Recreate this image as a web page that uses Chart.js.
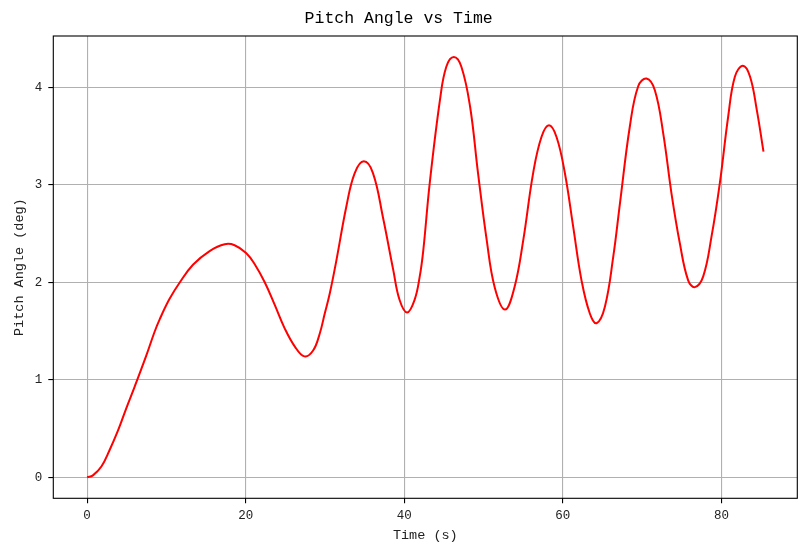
<!DOCTYPE html>
<html>
<head>
<meta charset="utf-8">
<script src="https://cdn.jsdelivr.net/npm/chart.js@4/dist/chart.umd.min.js"></script>
<style>
  body { margin: 0; background: #fff; }
  #wrap { width: 809px; height: 555px; }
</style>
</head>
<body>
<div id="wrap"><canvas id="pitchChart" width="809" height="555"></canvas></div>
<script>
// values
const timeS = [
  0, 0.73, 1.8, 2.84, 3.9, 4.95, 6.0, 7.47, 8.5, 9.15, 10.4, 11.7, 13.35, 15.45, 17.35,
  18.6, 20.05, 21.1, 22.4, 23.65, 24.9, 26.2, 27.4, 28.5, 29.34, 29.97, 30.6, 31.45,
  32.7, 33.75, 34.9, 36.05, 37.3, 38.6, 39.4, 40.35, 41.3, 41.95, 42.4, 43.2, 44.5,
  45.3, 46.25, 47.2, 48.3, 49.3, 50.4, 51.4, 52.7, 53.9, 55.0, 56.25, 57.3, 58.25,
  59.2, 60.25, 61.3, 62.35, 63.4, 64.25, 65.3, 66.35, 67.2, 68.45, 69.5, 70.55,
  71.6, 72.65, 73.7, 74.75, 75.8, 76.65, 77.7, 78.75, 79.8, 80.85, 81.7, 82.7,
  83.6, 84.45, 85.3
];
const pitchDeg = [
  0, 0.02, 0.11, 0.28, 0.48, 0.71, 0.93, 1.25, 1.49, 1.62, 1.83, 2.0, 2.18, 2.32, 2.39,
  2.38, 2.30, 2.19, 2.0, 1.77, 1.53, 1.34, 1.24, 1.30, 1.475, 1.68, 1.885, 2.23,
  2.78, 3.12, 3.24, 3.12, 2.67, 2.13, 1.82, 1.69, 1.82, 2.06, 2.33, 3.01, 3.87,
  4.21, 4.31, 4.21, 3.80, 3.12, 2.43, 1.95, 1.72, 1.95, 2.43, 3.12, 3.49, 3.61,
  3.49, 3.12, 2.57, 2.02, 1.68, 1.58, 1.75, 2.26, 2.81, 3.60, 4.01, 4.09,
  3.97, 3.53, 2.91, 2.40, 2.02, 1.95, 2.06, 2.47, 3.02, 3.70, 4.11, 4.22,
  4.11, 3.77, 3.34
];
const xTicks = [0, 20, 40, 60, 80];
const yTicks = [0, 1, 2, 3, 4];

const FONT = "'Liberation Mono', 'DejaVu Sans Mono', monospace";

// matplotlib-like 5% margins around the data
const xSpan = Math.max(...timeS) - Math.min(...timeS);
const ySpan = Math.max(...pitchDeg) - Math.min(...pitchDeg);

// full black frame round the plot area
const frame = {
  id: 'frame',
  afterDraw(chart) {
    const { ctx, chartArea: a } = chart;
    ctx.save();
    ctx.strokeStyle = '#000';
    ctx.lineWidth = 1.1;
    ctx.strokeRect(a.left, a.top, a.right - a.left, a.bottom - a.top);
    ctx.restore();
  }
};

new Chart(document.getElementById('pitchChart').getContext('2d'), {
  type: 'line',
  data: {
    datasets: [{
      data: timeS.map((t, i) => ({ x: t, y: pitchDeg[i] })),
      borderColor: '#ff0000',
      borderWidth: 2,
      pointRadius: 0,
      fill: false,
      tension: 0.4
    }]
  },
  options: {
    responsive: false,
    animation: false,
    layout: { padding: { left: 0, right: 11.7, top: 0, bottom: 0 } },
    plugins: {
      legend: { display: false },
      tooltip: { enabled: false },
      title: {
        display: true,
        text: 'Pitch Angle vs Time',
        color: '#000',
        font: { family: FONT, size: 16.5, weight: 'normal', lineHeight: 1.2 },
        padding: { top: 9, bottom: 7.2 }
      }
    },
    scales: {
      x: {
        type: 'linear',
        min: Math.min(...timeS) - 0.05 * xSpan,
        max: Math.max(...timeS) + 0.05 * xSpan,
        afterBuildTicks: s => { s.ticks = xTicks.map(v => ({ value: v })); },
        afterFit: s => { s.height = 56.7; },
        border: { display: false },
        grid: { color: '#b0b0b0', lineWidth: 1.1, tickColor: '#000', tickLength: 5 },
        ticks: { color: '#222', padding: 5, maxRotation: 0, font: { family: FONT, size: 12.5 } },
        title: {
          display: true, text: 'Time (s)', color: '#222',
          font: { family: FONT, size: 13.5 }, padding: { top: 0, bottom: 11 }
        }
      },
      y: {
        min: Math.min(...pitchDeg) - 0.05 * ySpan,
        max: Math.max(...pitchDeg) + 0.05 * ySpan,
        afterBuildTicks: s => { s.ticks = yTicks.map(v => ({ value: v })); },
        afterFit: s => { s.width = 53.3; },
        border: { display: false },
        grid: { color: '#b0b0b0', lineWidth: 1.1, tickColor: '#000', tickLength: 5 },
        ticks: { color: '#222', padding: 6, font: { family: FONT, size: 12.5 } },
        title: {
          display: true, text: 'Pitch Angle (deg)', color: '#222',
          font: { family: FONT, size: 13.5 }, padding: { top: 11, bottom: 0 }
        }
      }
    }
  },
  plugins: [frame]
});
</script>
</body>
</html>
